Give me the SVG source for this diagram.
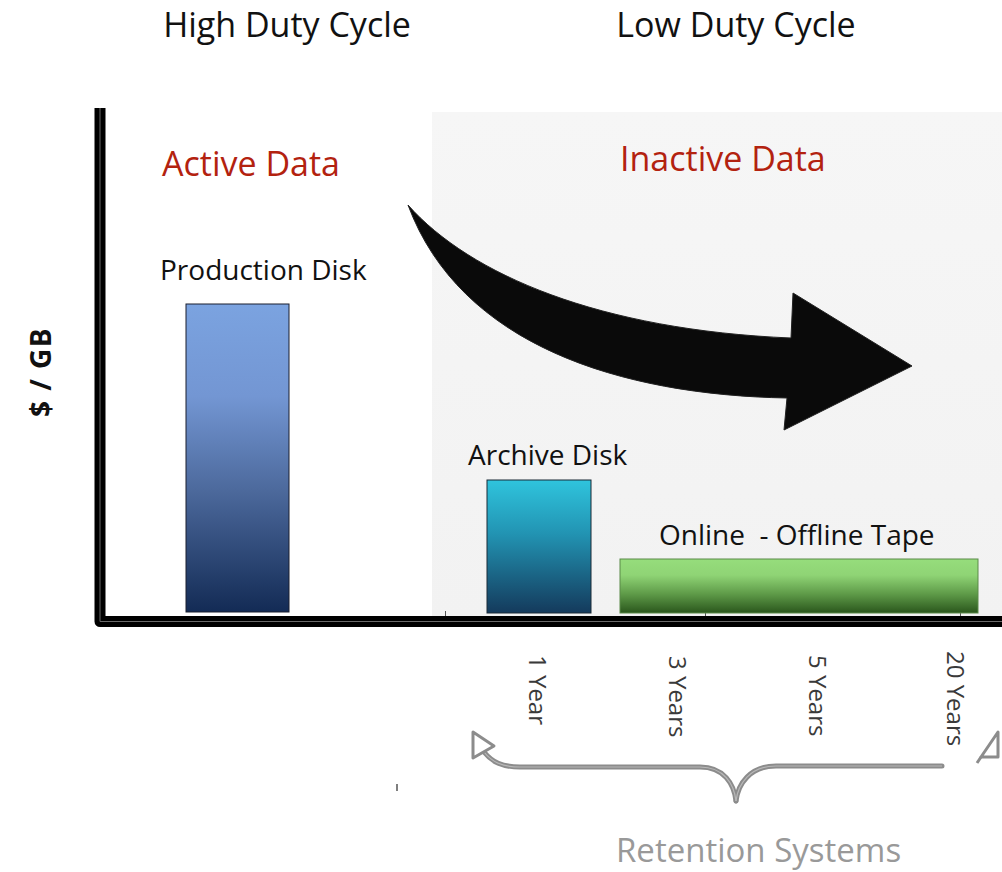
<svg xmlns="http://www.w3.org/2000/svg" width="1002" height="872" viewBox="0 0 1002 872">
  <defs>
    <style>
      .t { font-family: "Open Sans", "Liberation Sans", sans-serif; fill: #111; }
      .head { font-size: 34px; }
      .red { font-size: 34px; fill: #b3220f; }
      .lbl { font-size: 28px; }
      .yr { font-size: 24px; fill: #3a3a3a; }
      .axis { stroke: #000; fill: none; }
      .tick { stroke: #555; stroke-width: 1; }
      .brace { fill: none; stroke: #8c8c8c; stroke-width: 5; stroke-linecap: round; }
      .brace-in { fill: none; stroke: #b8b8b8; stroke-width: 1.2; }
      .head-tri { fill: #fff; stroke: #8c8c8c; stroke-width: 3; stroke-linejoin: round; }
    </style>
    <linearGradient id="gProd" x1="0" y1="0" x2="0" y2="1">
      <stop offset="0" stop-color="#7ba3e0"/>
      <stop offset="0.3" stop-color="#7396d3"/>
      <stop offset="0.6" stop-color="#4d6a9d"/>
      <stop offset="1" stop-color="#132b55"/>
    </linearGradient>
    <linearGradient id="gArch" x1="0" y1="0" x2="0" y2="1">
      <stop offset="0" stop-color="#2fc4dd"/>
      <stop offset="0.4" stop-color="#2294b3"/>
      <stop offset="1" stop-color="#143a5c"/>
    </linearGradient>
    <linearGradient id="gTape" x1="0" y1="0" x2="0" y2="1">
      <stop offset="0" stop-color="#96dd7c"/>
      <stop offset="0.3" stop-color="#8fd475"/>
      <stop offset="0.65" stop-color="#5e9a48"/>
      <stop offset="1" stop-color="#2a561c"/>
    </linearGradient>
    <linearGradient id="gPanel" x1="0" y1="0" x2="0" y2="1">
      <stop offset="0" stop-color="#f6f6f6"/>
      <stop offset="1" stop-color="#f2f2f2"/>
    </linearGradient>
  </defs>

  <rect width="1002" height="872" fill="#fff"/>

  <!-- low duty cycle region -->
  <rect id="inactive-panel" x="432" y="112" width="570" height="504" fill="url(#gPanel)"/>

  <!-- headings -->
  <text class="t head" x="287" y="37" text-anchor="middle">High Duty Cycle</text>
  <text class="t head" x="736" y="37" text-anchor="middle">Low Duty Cycle</text>
  <text class="t red" x="162" y="176">Active Data</text>
  <text class="t red" x="620" y="171">Inactive Data</text>

  <!-- y axis title -->
  <text class="t" x="0" y="0" font-size="28" font-weight="bold" letter-spacing="1.5" text-anchor="middle" transform="translate(51,372) rotate(-90)">$ / GB</text>

  <!-- axes -->
  <g id="axes">
    <path d="M100,108 L100,621.5 L1002,621.5" class="axis" stroke-width="11" stroke-linejoin="round"/>
    <path d="M100,108 L100,621.5 L1002,621.5" fill="none" stroke="#6a6a6a" stroke-width="1"/>
    <line class="tick" x1="445.5" y1="611" x2="445.5" y2="616"/>
    <line class="tick" x1="705.5" y1="611" x2="705.5" y2="616"/>
    <line class="tick" x1="960.5" y1="611" x2="960.5" y2="616"/>
  </g>

  <!-- bars -->
  <g id="production-disk">
    <rect x="186" y="304" width="103" height="308" fill="url(#gProd)" stroke="#1b1f2e" stroke-width="1"/>
    <text class="t lbl" x="160" y="280">Production Disk</text>
  </g>
  <g id="archive-disk">
    <rect x="487" y="480" width="104" height="133" fill="url(#gArch)" stroke="#1b2a36" stroke-width="1"/>
    <text class="t lbl" x="468" y="465">Archive Disk</text>
  </g>
  <g id="tape">
    <rect x="620" y="559" width="358" height="54" fill="url(#gTape)" stroke="#5a8a48" stroke-width="1"/>
    <text class="t lbl" x="659" y="545" xml:space="preserve">Online  - Offline Tape</text>
  </g>

  <!-- retention period labels -->
  <g id="years">
    <text class="t yr" transform="translate(529,655) rotate(90)">1 Year</text>
    <text class="t yr" transform="translate(669,656) rotate(90)">3 Years</text>
    <text class="t yr" transform="translate(809,655) rotate(90)">5 Years</text>
    <text class="t yr" transform="translate(947,651) rotate(90)">20 Years</text>
  </g>

  <g id="connectors">
    <!-- migration arrow -->
    <path d="M408,205 C470,275 600,330 791,338 L793,293 L912,366 L784,430 L787,398 C620,395 460,345 408,205 Z" fill="#0a0a0a" stroke="#222" stroke-width="1"/>

    <!-- retention brace -->
    <path class="brace" d="M484,752 C492,762 502,767 520,767 L700,767 C724,767 734,784 736,801"/>
    <path class="brace" d="M942,766 L776,766 C750,766 738,784 736,801"/>
    <path class="brace-in" d="M484,752 C492,762 502,767 520,767 L700,767 C724,767 734,784 736,801"/>
    <path class="brace-in" d="M942,766 L776,766 C750,766 738,784 736,801"/>
    <polygon class="head-tri" points="473,732 494,746 473,758"/>
    <polygon class="head-tri" points="998,732 981,757 998,757"/>
    <line x1="981" y1="757" x2="977" y2="763" stroke="#8c8c8c" stroke-width="3"/>
  </g>

  <line x1="397" y1="784" x2="397" y2="791" stroke="#555" stroke-width="1.5"/>

  <text class="t" x="616" y="862" font-size="33" fill="#999" style="fill:#999">Retention Systems</text>
</svg>
